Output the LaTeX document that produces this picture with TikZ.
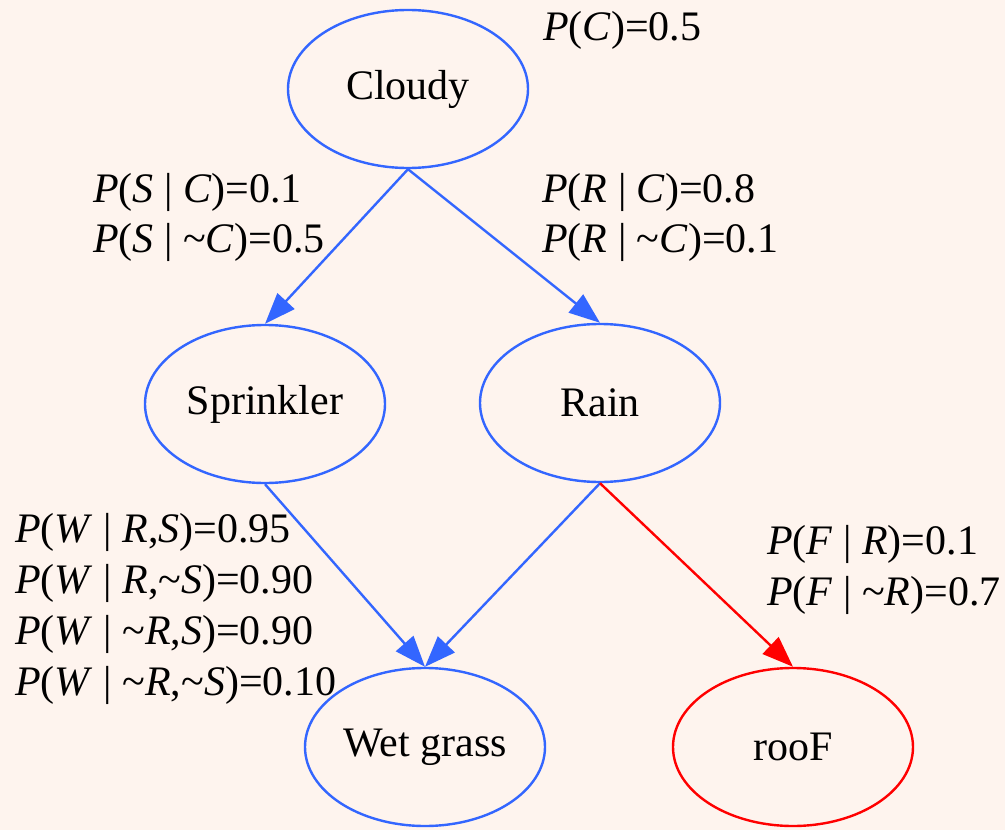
\documentclass[tikz,border=0pt]{standalone}
\usepackage{fontspec}
\setmainfont{Liberation Serif}
\usetikzlibrary{shapes.geometric,arrows.meta}
\definecolor{bgpeach}{HTML}{FEF4EE}
\definecolor{netblue}{HTML}{3366FF}
\definecolor{netred}{HTML}{FF0000}
\newcommand{\vr}[1]{\textit{#1}}
\newcommand{\nt}{\textasciitilde}
\begin{document}
\begin{tikzpicture}[x=1pt,y=-1pt,
  varnode/.style={ellipse,draw=netblue,line width=2.4pt,minimum width=240pt,minimum height=158pt,
    inner sep=0pt,font=\fontsize{42}{50}\selectfont},
  rednode/.style={varnode,draw=netred},
  edge/.style={draw=netblue,line width=2.4pt,-{Triangle[length=31pt,width=23pt]}},
  rededge/.style={edge,draw=netred,fill=netred},
  cpt/.style={anchor=base west,inner sep=0pt,font=\fontsize{42}{50}\selectfont}]
\fill[bgpeach] (0,0) rectangle (1005,830);
\useasboundingbox (0,0) rectangle (1005,830);

% variables
\node[varnode] (cloudy) at (408,89) {Cloudy};
\node[varnode] (sprinkler) at (265,404) {Sprinkler};
\node[varnode] (rain) at (600,403) {Rain};
\node[varnode] (wet) at (425,747) {Wet grass};
\node[rednode] (roof) at (793,747) {rooF};

% dependencies
\draw[edge,fill=netblue] (cloudy.south) -- (sprinkler.north);
\draw[edge,fill=netblue] (cloudy.south) -- (rain.north);
\draw[edge,fill=netblue] (sprinkler.south) -- (wet.north);
\draw[edge,fill=netblue] (rain.south) -- (wet.north);
\draw[rededge] (rain.south) -- (roof.north);

% conditional probability tables
\node[cpt] (pc) at (543,40) {\vr{P}(\vr{C})=0.5};
\node[cpt] (ps1) at (93,202) {\vr{P}(\vr{S} | \vr{C})=0.1};
\node[cpt] (ps2) at (93,252) {\vr{P}(\vr{S} | \nt\vr{C})=0.5};
\node[cpt] (pr1) at (542,202) {\vr{P}(\vr{R} | \vr{C})=0.8};
\node[cpt] (pr2) at (542,252) {\vr{P}(\vr{R} | \nt\vr{C})=0.1};
\node[cpt] (pw1) at (15,542) {\vr{P}(\vr{W} | \vr{R},\vr{S})=0.95};
\node[cpt] (pw2) at (15,593) {\vr{P}(\vr{W} | \vr{R},\nt\vr{S})=0.90};
\node[cpt] (pw3) at (15,644) {\vr{P}(\vr{W} | \nt\vr{R},\vr{S})=0.90};
\node[cpt] (pw4) at (15,695) {\vr{P}(\vr{W} | \nt\vr{R},\nt\vr{S})=0.10};
\node[cpt] (pf1) at (767,554) {\vr{P}(\vr{F} | \vr{R})=0.1};
\node[cpt] (pf2) at (767,605) {\vr{P}(\vr{F} | \nt\vr{R})=0.7};
\end{tikzpicture}
\end{document}
